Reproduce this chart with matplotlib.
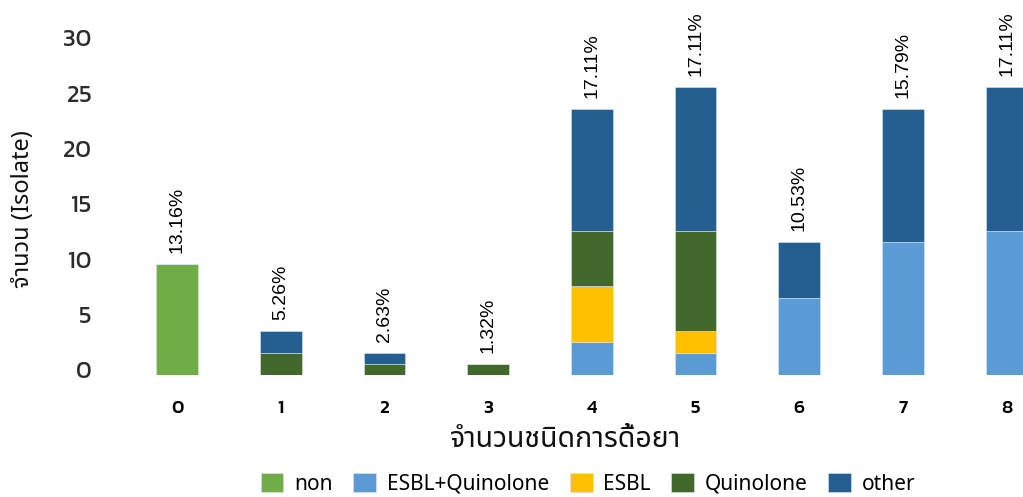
import matplotlib
matplotlib.use("Agg")
import matplotlib.pyplot as plt
import matplotlib.transforms as mtransforms
import numpy as np

# จำนวนชนิดการดื้อยา (number of resistance types)
categories = ["0", "1", "2", "3", "4", "5", "6", "7", "8"]
non = [10, 0, 0, 0, 0, 0, 0, 0, 0]
esbl_quin = [0, 0, 0, 0, 3, 2, 7, 12, 13]
esbl = [0, 0, 0, 0, 5, 2, 0, 0, 0]
quinolone = [0, 2, 1, 1, 5, 9, 0, 0, 0]
other = [0, 2, 1, 0, 11, 13, 5, 12, 13]
pct_labels = ["13.16%", "5.26%", "2.63%", "1.32%", "17.11%",
              "17.11%", "10.53%", "15.79%", "17.11%"]

series = [
    ("non", non, "#70AD47"),
    ("ESBL+Quinolone", esbl_quin, "#5B9BD5"),
    ("ESBL", esbl, "#FFC000"),
    ("Quinolone", quinolone, "#43682B"),
    ("other", other, "#255E91"),
]

num_font = "Kanit"
thai_font = ["Noto Sans Thai", "Noto Sans"]

fig = plt.figure(figsize=(10.23, 4.97), dpi=100)
ax = fig.add_axes([115 / 1023, 122 / 497, 908 / 1023, 332 / 497])

x = np.arange(len(categories))
bottom = np.zeros(len(categories))
for name, vals, color in series:
    vals = np.array(vals, dtype=float)
    ax.bar(x, vals, width=0.403, bottom=bottom, color=color, label=name,
           edgecolor="#dce6f0", linewidth=0.4)
    bottom += vals

# ป้ายเปอร์เซ็นต์เหนือแท่ง
for xi, total, lab in zip(x, bottom, pct_labels):
    ax.annotate(lab, (xi, total), xytext=(0, 8), textcoords="offset points",
                rotation=90, ha="center", va="bottom", fontsize=14,
                family="Liberation Sans", color="black", annotation_clip=False)

ax.set_xlim(-0.598, 8.158)
ax.set_ylim(0, 30)
ax.set_yticks(range(0, 31, 5))
ax.set_xticks(x)
ax.set_xticklabels(categories, family=num_font, fontsize=13.5, fontweight="medium")
ax.tick_params(axis="both", length=0, colors="black")
ax.tick_params(axis="x", pad=18)
ax.tick_params(axis="y", pad=17)
# ตัวเลขแกน y ยกขึ้นเล็กน้อย
for lab in ax.get_yticklabels():
    lab.set_family(num_font)
    lab.set_fontsize(17.5)
    lab.set_fontweight("normal")
    lab.set_color("#2b2b2b")
    lab.set_transform(lab.get_transform() +
                      mtransforms.ScaledTranslation(0, 0.05, fig.dpi_scale_trans))
for s in ax.spines.values():
    s.set_visible(False)

ax.set_xlabel("จำนวนชนิดการดื้อยา", family=thai_font, fontsize=20.5, color="#111111")
ax.xaxis.set_label_coords(0.496, -0.15)
ax.set_ylabel("จำนวน (Isolate)", family=thai_font, fontsize=17, color="#111111")
ax.yaxis.set_label_coords(-0.088, 0.5)

handles, labels = ax.get_legend_handles_labels()
fig.legend(handles, labels, loc="center", bbox_to_anchor=(588 / 1023, 1 - 484 / 497),
           ncol=5, frameon=False,
           prop={"family": "Noto Sans", "size": 15},
           handlelength=1.1, handleheight=1.0, handletextpad=0.5, columnspacing=1.0)

fig.savefig("out.png", dpi=100)
